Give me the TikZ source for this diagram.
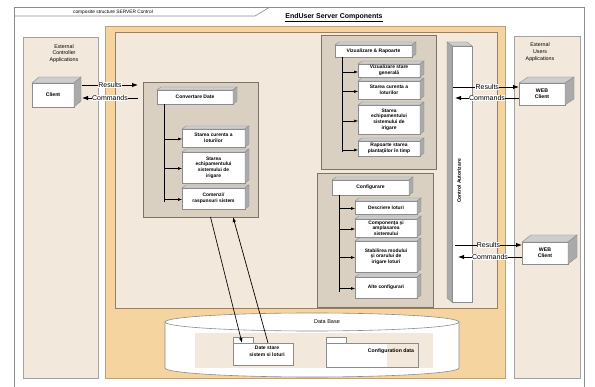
\documentclass[tikz,border=0pt]{standalone}
\usepackage{fontspec}
\setmainfont{Liberation Sans}
\usetikzlibrary{arrows.meta}
\definecolor{orng}{RGB}{245,212,160}
\definecolor{beige}{RGB}{242,232,219}
\definecolor{pkgfill}{RGB}{217,208,193}
\definecolor{lineg}{RGB}{140,140,140}
\definecolor{pkgline}{RGB}{125,115,105}
\definecolor{orline}{RGB}{190,160,120}
\definecolor{sideg}{RGB}{170,170,170}
\definecolor{topg}{RGB}{205,205,205}
\newcommand\threed[3]{%
  \filldraw[draw=lineg, fill=topg, line width=0.4pt] (#1.north west) -- ++(#2,-#3) -- ([shift={(#2,-#3)}]#1.north east) -- (#1.north east) -- cycle;
  \filldraw[draw=lineg, fill=sideg, line width=0.4pt] (#1.north east) -- ++(#2,-#3) -- ([shift={(#2,-#3)}]#1.south east) -- (#1.south east) -- cycle;}
\begin{document}
\begin{tikzpicture}[x=1pt,y=-1pt,
  every node/.style={inner sep=0pt, outer sep=0pt},
  tinyb/.style={font=\fontsize{4.9}{5.6}\selectfont\bfseries},
  sub/.style={draw=lineg, fill=white, align=center, tinyb, minimum width=62pt},
  hdr/.style={draw=lineg, fill=white, align=center, font=\fontsize{5}{5.6}\selectfont\bfseries, minimum width=77pt},
  pkg/.style={draw=pkgline, fill=pkgfill, line width=0.5pt},
  extbox/.style={draw=lineg!80, fill=beige, line width=0.6pt},
  clientbox/.style={draw=lineg, fill=white, align=center, font=\fontsize{5.2}{6.2}\selectfont\bfseries},
  sarr/.style={-{Latex[length=4pt,width=3pt]}, line width=0.5pt},
  barr/.style={-{Latex[length=6pt,width=4.5pt]}, line width=0.9pt},
  darr/.style={-{Latex[length=5pt,width=3.5pt]}, line width=0.7pt},
  trunk/.style={line width=0.5pt},
  lab/.style={fill=white, inner sep=0.3pt, font=\fontsize{7}{8}\selectfont}
]
\useasboundingbox (0,0) rectangle (595,387);
\fill[white] (0,0) rectangle (595,387);

% outer frame and title tab
\draw[lineg, line width=0.6pt] (14,387) -- (14,7) -- (584,7) -- (584,387);
\draw[lineg, line width=0.6pt] (14,16) -- (255,16) -- (270,7);
\node[font=\fontsize{4.8}{5}\selectfont] (ttl) at (113,12.5) {composite structure SERVER Control};
\node[font=\fontsize{7}{8}\selectfont\bfseries] (maintitle) at (334,18) {\underline{EndUser Server Components}};

% external boxes
\node[extbox, minimum width=75pt, minimum height=341pt] (extc) at (60.5,207.5) {};
\node[extbox, minimum width=66pt, minimum height=342pt] (extu) at (547,207) {};
\node[align=center, font=\fontsize{5.3}{6.8}\selectfont] (extctxt) at (64,53.5) {External\\Controller\\Applications};
\node[align=center, font=\fontsize{5.3}{6.8}\selectfont] (extutxt) at (540,52) {External\\Users\\Applications};

% orange and inner areas
\node[draw=orline, fill=orng, line width=0.6pt, minimum width=400pt, minimum height=352pt] (orbox) at (305,202) {};
\node[draw=orline!80!black, fill=beige, line width=0.6pt, minimum width=382pt, minimum height=276pt] (inbox) at (306,170) {};

% packages
\node[pkg, minimum width=115pt, minimum height=135pt] (conv) at (200.5,149.5) {};
\node[pkg, minimum width=115pt, minimum height=134pt] (viz) at (378.5,102) {};
\node[pkg, minimum width=116pt, minimum height=134pt] (cfg) at (375,240) {};

% headers
\node[hdr, minimum width=76pt, minimum height=14pt] (convh) at (195,97) {Convertare Date};
\node[hdr, minimum height=12pt] (vizh) at (373.5,51) {Vizualizare \& Rapoarte};
\node[hdr, minimum height=15pt] (cfgh) at (370.5,187.5) {Configurare};
\threed{convh}{4}{3}
\threed{vizh}{4}{3}
\threed{cfgh}{4}{3}

% convertare sub boxes
\node[sub, minimum width=63pt, minimum height=18pt] (c1) at (213.5,138) {Starea curenta a\\loturilor};
\node[sub, minimum width=63pt, minimum height=31pt] (c2) at (213.5,167.5) {Starea\\echipamentului\\sistemului de\\irigare};
\node[sub, minimum width=63pt, minimum height=21pt] (c3) at (213.5,198.5) {Comenzi/\\raspunsuri sistem};
\foreach \n in {c1,c2,c3} {\threed{\n}{4}{3}}
\coordinate (ct) at ([shift={(-31,0)}]convh.south);
\draw[trunk] (ct) -- ([shift={(0,3.5)}]ct |- c3.west);
\foreach \n in {c1,c2,c3} {\draw[sarr] ([shift={(0,1)}]ct |- \n.west) -- ([shift={(0,1)}]\n.west);}

% vizualizare sub boxes
\node[sub, minimum height=13pt] (v1) at (389,70.5) {Vizualizare stare\\generală};
\node[sub, minimum height=18pt] (v2) at (389,90) {Starea curenta a\\loturilor};
\node[sub, minimum height=29pt] (v3) at (389,119.5) {Starea\\echipamentului\\sistemului de\\irigare};
\node[sub, minimum height=15pt] (v4) at (389,148.5) {Rapoarte starea\\plantaţiilor în timp};
\foreach \n in {v1,v2,v3,v4} {\threed{\n}{4}{3}}
\coordinate (vt) at ([shift={(-31.5,0)}]vizh.south);
\draw[trunk] (vt) -- ([shift={(0,3.5)}]vt |- v4.west);
\foreach \n in {v1,v2,v3,v4} {\draw[sarr] ([shift={(0,1.5)}]vt |- \n.west) -- ([shift={(0,1.5)}]\n.west);}

% configurare sub boxes
\node[sub, minimum height=13pt] (g1) at (386,207.5) {Descriere loturi};
\node[sub, minimum height=18pt] (g2) at (386,228) {Componenţa şi\\amplasarea\\sistemului};
\node[sub, minimum height=31pt] (g3) at (386,256.5) {Stabilirea modului\\şi orarului de\\irigare loturi};
\node[sub, minimum height=21pt] (g4) at (386,287.5) {Alte configurari};
\foreach \n in {g1,g2,g3,g4} {\threed{\n}{4}{3}}
\coordinate (gt) at ([shift={(-31.5,0)}]cfgh.south);
\draw[trunk] (gt) -- ([shift={(0,4.5)}]gt |- g4.west);
\foreach \n in {g1,g2,g3,g4} {\draw[sarr] ([shift={(0,1)}]gt |- \n.west) -- ([shift={(0,1)}]\n.west);}

% control autorizare bar
\node[draw=lineg, fill=white, minimum width=20pt, minimum height=256pt] (bar) at (462,174) {};
\filldraw[draw=lineg, fill=topg, line width=0.4pt] (bar.north west) -- ++(-5,-4) -- ([shift={(-5,-4)}]bar.north east) -- (bar.north east) -- cycle;
\filldraw[draw=lineg, fill=sideg, line width=0.4pt] (bar.north west) -- ++(-5,-4) -- ([shift={(-5,-4)}]bar.south west) -- (bar.south west) -- cycle;
\node[rotate=90, font=\fontsize{5}{6}\selectfont\bfseries] (barlbl) at ([shift={(-3,7)}]bar.center) {Control Autorizare};

% clients
\node[clientbox, minimum width=42pt, minimum height=24pt] (client) at (53,95) {Client};
\threed{client}{7}{6}
\node[clientbox, minimum width=46pt, minimum height=22pt] (web1) at (542,94) {WEB\\Client};
\threed{web1}{9}{6}
\node[clientbox, minimum width=46pt, minimum height=22pt] (web2) at (545,253) {WEB\\Client};
\threed{web2}{9}{7}

% left arrows
\coordinate (lr) at ([shift={(8,-10)}]client.east);
\coordinate (lc) at ([shift={(8,3)}]client.east);
\draw[barr] (lr) -- ([shift={(-5,0)}]conv.west |- lr) node[lab, midway] {Results};
\draw[barr] ([shift={(-5,0)}]conv.west |- lc) -- (lc) node[lab, midway] {Commands};

% right arrows
\coordinate (r1) at ([shift={(0,-7)}]web1.west);
\coordinate (k1) at ([shift={(0,4)}]web1.west);
\coordinate (r2) at ([shift={(0,-8)}]web2.west);
\coordinate (k2) at ([shift={(0,4)}]web2.west);
\draw[barr] ([shift={(1,0)}]bar.west |- r1) -- (r1) node[lab, pos=0.52] {Results};
\draw[barr] (k1) -- ([shift={(3,0)}]bar.west |- k1) node[lab, pos=0.5] {Commands};
\draw[barr] ([shift={(3,0)}]bar.west |- r2) -- (r2) node[lab, pos=0.5] {Results};
\draw[barr] (k2) -- ([shift={(6,0)}]bar.west |- k2) node[lab, pos=0.5] {Commands};

% database cylinder
\filldraw[draw=lineg, fill=white, line width=0.6pt] (165,322) -- (165,368) arc[start angle=180, end angle=0, x radius=147, y radius=9] -- (459,322) arc[start angle=0, end angle=-180, x radius=147, y radius=9] -- cycle;
\draw[lineg, line width=0.6pt] (165,322) arc[start angle=180, end angle=0, x radius=147, y radius=9];
\fill[beige] (195,333) rectangle (433,368);
\node[font=\fontsize{5.5}{6}\selectfont] (dblbl) at (327,322) {Data Base};

% folders
\node[draw=lineg, fill=white, minimum width=20pt, minimum height=6pt] (dsftab) at (243,340) {};
\node[draw=lineg, fill=white, minimum width=60pt, minimum height=22pt] (dsf) at (263,354) {};
\node[align=center, font=\fontsize{5}{6.5}\selectfont\bfseries] (dsftxt) at (267,351.5) {Date stare\\sistem si loturi};
\node[draw=lineg, fill=white, minimum width=20pt, minimum height=6pt] (cdtab) at (336,340) {};
\fill[white] (326,343) rectangle (387,367);
\node[draw=lineg, minimum width=92pt, minimum height=24pt] (cd) at (372,355) {};
\node[font=\fontsize{5.2}{6}\selectfont\bfseries] (cdtxt) at (391,351) {Configuration data};

% db connectors
\draw[darr] ([shift={(10,0)}]conv.south) -- ([shift={(-21,0)}]dsf.north);
\draw[darr] ([shift={(5,0)}]dsf.north) -- ([shift={(32.5,0)}]conv.south);
\end{tikzpicture}
\end{document}
